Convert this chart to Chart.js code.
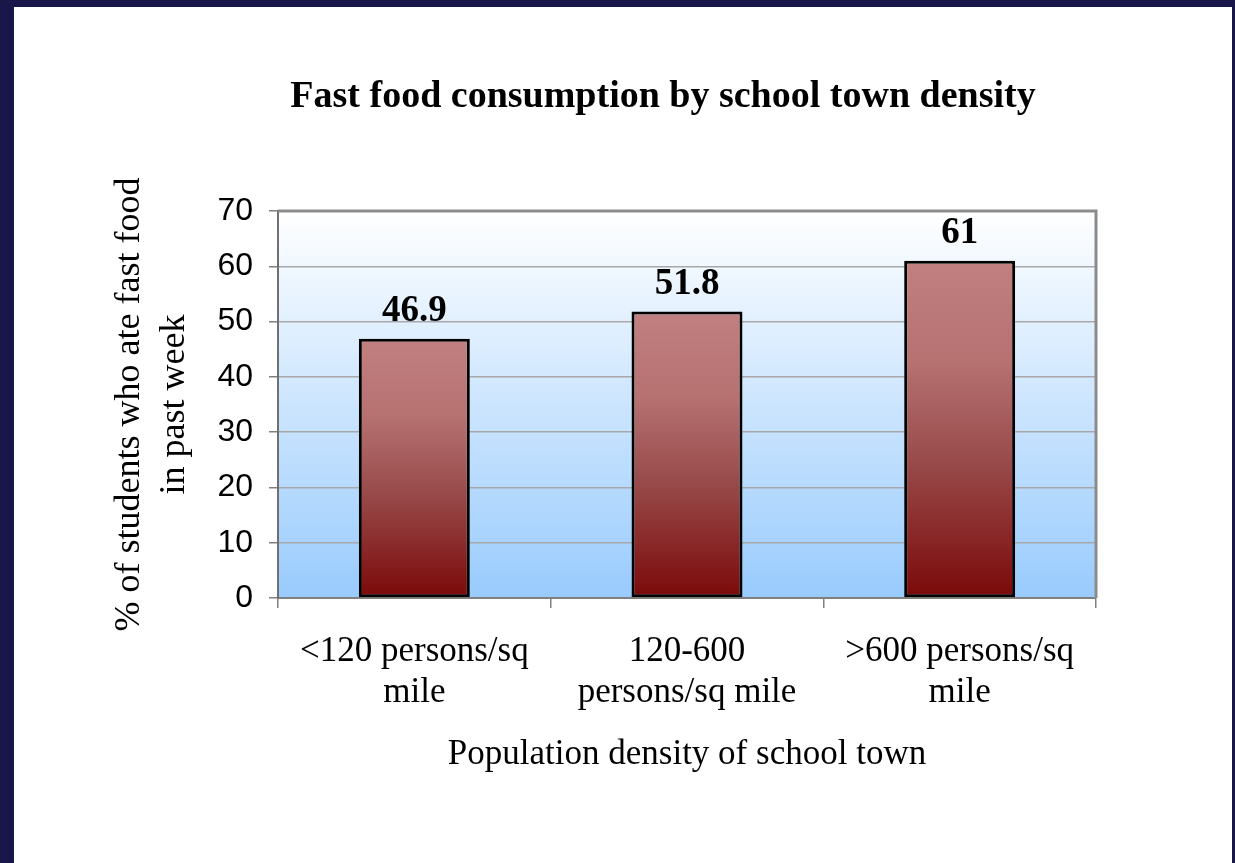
<!DOCTYPE html>
<html>
<head>
<meta charset="utf-8">
<title>Fast food consumption by school town density</title>
<script src="https://cdn.jsdelivr.net/npm/chart.js@4.4.1/dist/chart.umd.min.js"></script>
<style>
    html, body { margin: 0; padding: 0; background: #19174a; }
    #frame { position: absolute; left: 14px; top: 7px; width: 1218px; height: 856px; background: #fff; }
</style>
</head>
<body>
<div id="frame"><canvas id="densityChart"></canvas></div>
<script>
const chartTitle = 'Fast food consumption by school town density'
const densityLabels = [
    ['<120 persons/sq', 'mile'],
    ['120-600', 'persons/sq mile'],
    ['>600 persons/sq', 'mile'],
]
const percentAteFastFood = [46.9, 51.8, 61]
const yAxisTitle = ['% of students who ate fast food', 'in past week']
const xAxisTitle = 'Population density of school town'
const yMax = 70
const yStep = 10

const serif = "'Liberation Serif', 'Times New Roman', serif"
const sans = "'Liberation Sans', Arial, sans-serif"

// red bar shading, light at the top of each bar, dark at the base
function barFill(context) {
    const chart = context.chart
    if (!chart.chartArea || context.raw === undefined) return '#a05a5a'
    const top = chart.scales.y.getPixelForValue(context.raw)
    const bottom = chart.scales.y.getPixelForValue(0)
    const g = chart.ctx.createLinearGradient(0, top, 0, bottom)
    g.addColorStop(0, '#c28080')
    g.addColorStop(0.3, '#b67171')
    g.addColorStop(0.6, '#984a4a')
    g.addColorStop(1, '#7b0909')
    return g
}

const plotBackground = {
    id: 'plotBackground',
    beforeDraw(chart) {
        const { ctx, chartArea: a } = chart
        const g = ctx.createLinearGradient(0, a.top, 0, a.bottom)
        g.addColorStop(0, '#ffffff')
        g.addColorStop(1, '#99cbfd')
        ctx.save()
        ctx.fillStyle = g
        ctx.fillRect(a.left, a.top, a.right - a.left, a.bottom - a.top)
        ctx.restore()
    },
    afterDraw(chart) {
        const { ctx, chartArea: a } = chart
        ctx.save()
        ctx.strokeStyle = '#8c8c8c'
        ctx.lineWidth = 3
        ctx.beginPath()
        ctx.moveTo(a.left, a.top)
        ctx.lineTo(a.right, a.top)
        ctx.lineTo(a.right, a.bottom)
        ctx.stroke()
        ctx.restore()
    },
}

const headline = {
    id: 'headline',
    afterDraw(chart) {
        const ctx = chart.ctx
        ctx.save()
        ctx.font = `bold 38px ${serif}`
        ctx.fillStyle = '#000'
        ctx.textAlign = 'center'
        ctx.textBaseline = 'alphabetic'
        ctx.fillText(chartTitle, 649, 100)
        ctx.restore()
    },
}

const valueLabels = {
    id: 'valueLabels',
    afterDatasetsDraw(chart) {
        const ctx = chart.ctx
        const meta = chart.getDatasetMeta(0)
        ctx.save()
        ctx.font = `bold 37px ${serif}`
        ctx.fillStyle = '#000'
        ctx.textAlign = 'center'
        ctx.textBaseline = 'alphabetic'
        meta.data.forEach((bar, i) => {
            ctx.fillText(String(percentAteFastFood[i]), bar.x, bar.y - 18)
        })
        ctx.restore()
    },
}

new Chart(document.getElementById('densityChart'), {
    type: 'bar',
    data: {
        labels: densityLabels,
        datasets: [
            {
                data: percentAteFastFood,
                backgroundColor: barFill,
                borderColor: '#000',
                borderWidth: 3,
                borderSkipped: false,
                barPercentage: 0.407,
                categoryPercentage: 1,
            },
        ],
    },
    options: {
        responsive: true,
        maintainAspectRatio: false,
        animation: false,
        layout: { padding: { top: 204, right: 136, left: 0, bottom: 0 } },
        plugins: {
            legend: { display: false },
            tooltip: { enabled: false },
        },
        scales: {
            x: {
                ticks: {
                    color: '#000',
                    font: { family: serif, size: 35, lineHeight: 1.15 },
                    padding: 24,
                    maxRotation: 0,
                    autoSkip: false,
                },
                grid: {
                    offset: true,
                    drawOnChartArea: false,
                    tickLength: 10,
                    color: '#808080',
                    lineWidth: 1.5,
                },
                border: { color: '#808080', width: 2 },
                title: {
                    display: true,
                    text: xAxisTitle,
                    color: '#000',
                    font: { family: serif, size: 35, lineHeight: 1.2 },
                    padding: { top: 0, bottom: 87 },
                },
                afterFit: (scale) => { scale.height = 265 },
            },
            y: {
                min: 0,
                max: yMax,
                ticks: {
                    stepSize: yStep,
                    color: '#000',
                    font: { family: sans, size: 32 },
                    padding: 16,
                },
                grid: {
                    color: '#a8a8a8',
                    lineWidth: 1.5,
                    tickLength: 9,
                    tickColor: '#808080',
                },
                border: { color: '#707070', width: 2 },
                title: {
                    display: true,
                    text: yAxisTitle,
                    color: '#000',
                    font: { family: serif, size: 36, lineHeight: 1.25 },
                    padding: { top: 93, bottom: 0 },
                },
                afterFit: (scale) => { scale.width = 264 },
            },
        },
    },
    plugins: [plotBackground, headline, valueLabels],
})
</script>
</body>
</html>
